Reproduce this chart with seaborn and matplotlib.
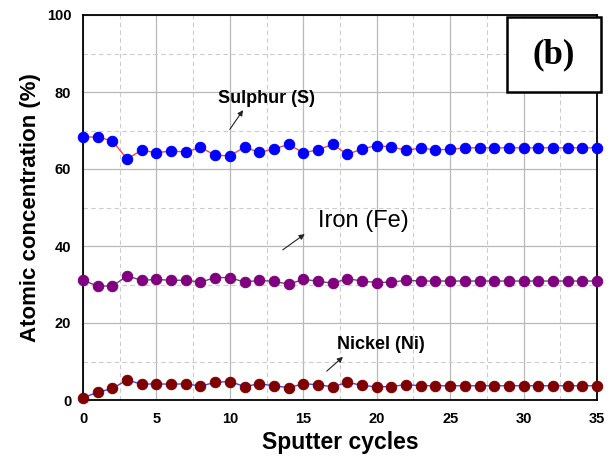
import matplotlib
matplotlib.use("Agg")
import matplotlib.pyplot as plt
import seaborn as sns
import numpy as np
import pandas as pd
from matplotlib.ticker import MultipleLocator
from matplotlib.patches import Rectangle

cycles = list(range(36))
sulphur = [68.3, 68.3, 67.3, 62.6, 64.9, 64.2, 64.7, 64.4, 65.6, 63.6, 63.4, 65.7,
           64.3, 65.2, 66.4, 64.2, 65.0, 66.4, 63.8, 65.2, 66.1, 65.7, 64.9, 65.4,
           65.0, 65.1, 65.5, 65.5, 65.5, 65.5, 65.5, 65.5, 65.5, 65.5, 65.5, 65.5]
iron = [31.1, 29.6, 29.6, 32.2, 31.1, 31.3, 31.1, 31.1, 30.6, 31.8, 31.8, 30.6,
        31.1, 30.8, 30.1, 31.3, 30.9, 30.3, 31.5, 30.9, 30.5, 30.6, 31.1, 30.9,
        30.9, 30.9, 30.9, 30.9, 30.9, 30.9, 30.9, 30.9, 30.9, 30.9, 30.9, 30.9]
nickel = [0.6, 2.0, 3.0, 5.2, 4.1, 4.2, 4.1, 4.2, 3.6, 4.6, 4.8, 3.5,
          4.2, 3.7, 3.2, 4.2, 4.0, 3.4, 4.6, 3.8, 3.4, 3.5, 4.0, 3.7,
          3.7, 3.7, 3.7, 3.7, 3.7, 3.7, 3.7, 3.7, 3.7, 3.7, 3.7, 3.7]

sns.set_style("white")
plt.rcParams['font.family'] = ['Liberation Sans', 'DejaVu Sans']
plt.rcParams['text.color'] = 'black'
plt.rcParams['axes.labelcolor'] = 'black'
plt.rcParams['xtick.color'] = 'black'
plt.rcParams['ytick.color'] = 'black'

fig = plt.figure(figsize=(6.15, 4.67), dpi=100)
ax = fig.add_axes([83/615, 1-400/467, (597-83)/615, (400-15)/467])

series = [
    (sulphur, "#ff4040", "#0000ff"),
    (iron, "#555555", "#800080"),
    (nickel, "#4040ff", "#800000"),
]
for vals, lc, mc in series:
    df = pd.DataFrame({"x": cycles, "y": vals})
    sns.lineplot(data=df, x="x", y="y", ax=ax, color=lc, lw=1.0,
                 marker="o", markersize=7.5, markerfacecolor=mc,
                 markeredgecolor=mc, clip_on=False, zorder=3)

ax.set_xlim(0, 35)
ax.set_ylim(0, 100)
ax.xaxis.set_major_locator(MultipleLocator(5))
ax.xaxis.set_minor_locator(MultipleLocator(2.5))
ax.yaxis.set_major_locator(MultipleLocator(20))
ax.yaxis.set_minor_locator(MultipleLocator(10))
ax.grid(which="major", color="#b8b8b8", lw=0.9, ls="-")
ax.grid(which="minor", color="#cccccc", lw=0.8, ls=(0, (4, 3)))
ax.set_axisbelow(True)
ax.tick_params(which="major", direction="out", length=5, width=1.2, labelsize=10.5)
ax.tick_params(which="minor", direction="out", length=3, width=1.0)
ax.tick_params(axis="both", top=False, right=False)
for lab in ax.get_xticklabels() + ax.get_yticklabels():
    lab.set_fontweight("bold")
for sp in ax.spines.values():
    sp.set_color("black")
    sp.set_linewidth(1.3)

ax.set_xlabel("Sputter cycles", fontsize=16.5, fontweight="bold", labelpad=4)
ax.set_ylabel("Atomic concentration (%)", fontsize=16, fontweight="bold", labelpad=4)

arrow_kw = dict(arrowstyle="-|>", color="#222222", lw=0.8, mutation_scale=8,
                shrinkA=0, shrinkB=0)
ax.text(12.5, 78.4, "Sulphur (S)", fontsize=13, fontweight="bold", ha="center", va="center")
ax.annotate("", xy=(10.9, 75.3), xytext=(10.0, 70.3), arrowprops=arrow_kw)
ax.text(19.1, 46.5, "Iron (Fe)", fontsize=17, ha="center", va="center")
ax.annotate("", xy=(15.1, 43.1), xytext=(13.6, 39.0), arrowprops=arrow_kw)
ax.text(20.3, 14.3, "Nickel (Ni)", fontsize=13, fontweight="bold", ha="center", va="center")
ax.annotate("", xy=(17.7, 11.2), xytext=(16.6, 7.5), arrowprops=arrow_kw)

# (b) label box
bx0, by0, bx1, by1 = 507/615, 1-92/467, 601/615, 1-17/467
fig.patches.append(Rectangle((bx0, by0), bx1-bx0, by1-by0, transform=fig.transFigure,
                             facecolor="white", edgecolor="black", lw=1.8, zorder=5))
fig.text((bx0+bx1)/2, (by0+by1)/2, "(b)", fontsize=25, fontweight="bold",
         family=["Liberation Serif", "DejaVu Serif"], ha="center", va="center", zorder=6)

fig.savefig("out.png", dpi=100)
